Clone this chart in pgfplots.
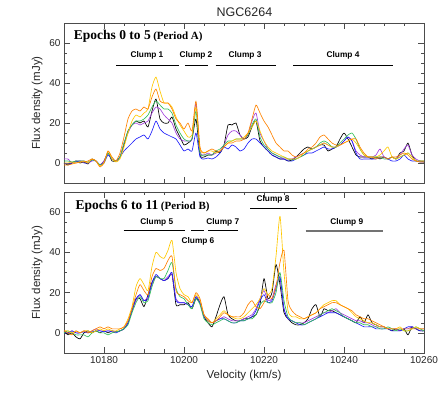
\documentclass[border=0pt]{standalone}
\usepackage{pgfplots}
\pgfplotsset{compat=1.18}
\usepackage{pgfplotstable}
\usepackage{fontspec}
\setmainfont{Liberation Sans}
\newfontfamily\serifb{Liberation Serif}

\definecolor{cK}{RGB}{0,0,0}
\definecolor{cP}{RGB}{160,60,220}
\definecolor{cB}{RGB}{30,30,250}
\definecolor{cG}{RGB}{50,190,90}
\definecolor{cY}{RGB}{255,200,0}
\definecolor{cO}{RGB}{255,130,0}

% Period A: velocity, then one column per epoch colour
\pgfplotstableread{
v k p b g y o
10170 0 2 0 1 0 -1
10171 -1 2 -0.5 1 0 -1
10172 0 0 0 0.5 0.5 -0.5
10173 1 1 0.5 1 0 0
10174 0 1 1 1 0.5 0.5
10175 0.5 1 0 1 1 0.5
10176 -0.5 0 0 0.5 0 1
10177 2 1 1.5 1.5 2 2
10178 1 1 1 1 1 1
10179 -1 -1 -1 -1 -1.5 -2
10180 1 1 0 0 0 0
10181 5 5 4 5 6 6
10182 1 2 2 2 2 3
10183 1 1 1 1 0.5 1
10184 3 3 3 3 2 5
10185 9 10 6 10 8 13
10186 16 15 8 16 15 22
10187 19 19 10 19 21 26
10188 21 20 12 21 24 27
10189 20 19 13 21 23 26
10190 21 20 14 22 25 28
10191 18 21 12 24 27 27
10192 26 25 16 28 38 33
10193 32 28 21 31 43 37
10194 22 27 17 29 36 31
10195 20 24 15 27 30 30
10196 20 22 14 27 30 30
10197 23 20 13 25 28 27
10198 17 15 12 19 23 22
10199 13 12 9 15 19 20
10200 9 11 6 12 16 17
10201 10 11 7 11 13 20
10202 12 12 6 12 14 16
10203 22 30 15 26 28 31
10204 4 6 3 5 7 8
10205 3 4 2 4 5 5
10206 4 5 2.5 4 6 6
10207 4 4 2 4 6 7
10208 6 5 3 6 5 6
10209 5 6 5 7 6 6
10210 9 9 8 9 8 8
10211 19 14 7 11 10 10
10212 19 16 9 11 11 10
10213 20 16 8 12 12 11
10214 14 14 6 12 12 11
10215 12 12 7 12 13 12
10216 13 14 10 14 15 15
10217 18 21 12 19 18 22
10218 21 25 12 22 21 29
10219 11 15 10 13 16 25
10220 8 11 8 9 11 21
10221 6 7 6 7 8 18
10222 4 5 4 5 6 14
10223 3 4 3 4 5 10
10224 2 3 2 3 4 8
10225 2 2 2 3 3 6
10226 1 2 1 2 2 6
10227 1.5 2 1 1.5 2 4
10228 3 3 2 2 2 3
10229 5 4 3 3 3 4
10230 7 5 4 4 5 5
10231 8 6 5 6 6 7
10232 7 7 5 7 7 8
10233 8 8 6 8 8 10
10234 9 9 7 10 9 13
10235 9 10 8 11 10 14
10236 6 9 7 10 9 12
10237 7 8 7 8 8 10
10238 8 8 8 8 8 9
10239 12 9 9 10 9 9
10240 15 11 11 12 10 10
10241 12 13 13 14 11 11
10242 8 11 11 15 12 12
10243 4 6 5 12 10 12
10244 3 4 2 7 7 8
10245 3 3 2 4 4 5
10246 3 3 2 3 3 3
10247 2 3 2 3 3 3
10248 3 4 2 3 3 2
10249 2 7 3 3 4 3
10250 3 3 3 2 6 3
10251 2 2 2 2 8 2
10252 3 3 1 3 3 3
10253 2 2 1 2 2 3
10254 5 4 2 3 3 4
10255 6 7 4 4 4 5
10256 10 9 2 5 5 4
10257 4 4 1 3 3 2
10258 1 2 1 1 1 1
10259 1 1 0.5 1 1 0.5
10260 0.5 1 0.5 1 1 0.5
}\periodA

% Period B
\pgfplotstableread{
v k p b g y o
10170 1 1 0 0 1 1
10171 -1 0 0 1 1 0
10172 0 1 1 0 0 -1
10173 -2 0 0 -1 1 1
10174 -3 0 0 -1 0 0
10175 0 1 0.5 -1 1 1
10176 1 0 0 -2 1 0
10177 0 1 0.5 0 0 1
10178 1 2 1 1 1 2
10179 0 1 1 0 2 3
10180 1 1 0.5 0 1 2
10181 0 1 1 -1 2 3
10182 1 1 0.5 0 1 2
10183 0.5 0.5 0 0.5 1 2
10184 1 1 1 1 2 2
10185 2 2 2 2 3 3
10186 5 5 5 4 7 6
10187 11 11 11 10 13 12
10188 17 16 17 15 23 19
10189 17 19 19 18 27 24
10190 13 16 16 15 24 21
10191 19 18 17 16 21 19
10192 25 24 25 23 33 28
10193 28 28 29 28 40 32
10194 27 27 27 27 38 31
10195 26 26 26 27 37 32
10196 27 28 27 31 41 36
10197 29 29 30 35 46 38
10198 14 17 16 22 30 21
10199 14 15 15 18 22 19
10200 14 15 15 17 19 18
10201 15 14 14 14 18 16
10202 12 13 13 12 15 15
10203 17 18 18 17 19 20
10204 15 15 15 14 16 17
10205 8 9 8 7 9 9
10206 5 6 6 5 6 7
10207 3 5 5 4 5 5
10208 8 6 6 5 7 6
10209 14 7 7 6 9 8
10210 18 8 7 7 11 10
10211 9 7 6 6 9 9
10212 7 6 5 5 8 8
10213 6 6 5 5 7 8
10214 6 6 6 6 7 8
10215 7 7 6 6 8 10
10216 7 8 7 7 10 14
10217 8 9 8 7 12 16
10218 9 12 11 9 14 13
10219 14 17 16 14 17 12
10220 27 21 19 16 22 15
10221 17 16 15 15 19 19
10222 20 17 16 15 22 17
10223 34 24 22 20 38 23
10224 24 27 28 30 58 35
10225 10 12 12 16 30 41
10226 7 7 7 8 11 16
10227 5 6 6 6 8 11
10228 4 5 5 5 8 9
10229 4 5 4 5 7 8
10230 5 5 4 4 7 7
10231 7 6 5 5 8 8
10232 12 7 6 6 9 9
10233 14 8 7 7 10 10
10234 8 9 8 9 12 12
10235 12 10 9 10 14 13
10236 11 10 10 11 15 14
10237 11 11 10 12 16 15
10238 10 12 10 11 16 15
10239 9 10 9 10 14 14
10240 8 9 8 8 13 13
10241 7 8 7 7 12 12
10242 6 7 6 6 10 11
10243 5 6 5 5 8 9
10244 8 6 4 5 7 8
10245 5 5 3 4 6 7
10246 9 5 3 4 5 7
10247 5 4 3 3 5 6
10248 4 3 2 3 4 5
10249 3 3 2 2 3 4
10250 3 3 2 2 3 3
10251 2 2 2 3 2 2
10252 1 2 1 2 2 2
10253 2 2 1 1 2 2
10254 1 1 1 2 3 2
10255 2 2 2 1 1 2
10256 -1 2 3 1 1 2
10257 3 3 3 2 2 2
10258 2 2 2 3 3 2
10259 1 2 1 2 2 2
10260 1 2 1 1 2 2
}\periodB

\pgfplotsset{
  idl/.style={
    scale only axis, width=360pt,
    xmin=10170, xmax=10260, ymin=-10, ymax=70,
    xtick={10180,10200,10220,10240,10260}, minor x tick num=3,
    ytick={0,20,40,60}, minor y tick num=3,
    scaled x ticks=false,
    xticklabel style={/pgf/number format/fixed, /pgf/number format/precision=0},
    major tick length=6pt, minor tick length=3.5pt,
    axis line style={black!70}, every tick/.style={black!70},
    tick label style={font=\fontsize{10}{12}\selectfont, black!85},
    /pgf/number format/assume math mode=true,
    /pgf/number format/1000 sep={},
    ylabel={Flux density (mJy)},
    label style={font=\fontsize{11.5}{13}\selectfont, black!85},
    every axis plot/.append style={line width=0.65pt, smooth, tension=0.35, line join=round},
  },
}
\tikzset{clump/.style={font=\fontsize{8.3}{10}\selectfont\bfseries}}

\begin{document}
\begin{tikzpicture}
\useasboundingbox (0,0) rectangle (445pt,396pt);
\node[font=\fontsize{12.5}{14}\selectfont, black!85] at (244.5pt,384pt) {NGC6264};

\begin{axis}[idl, at={(64pt,213pt)}, anchor=south west, height=160pt,
  xticklabels={}]
  \addplot[cK] table[x=v,y=k] {\periodA};
  \addplot[cP] table[x=v,y=p] {\periodA};
  \addplot[cB] table[x=v,y=b] {\periodA};
  \addplot[cG] table[x=v,y=g] {\periodA};
  \addplot[cY] table[x=v,y=y] {\periodA};
  \addplot[cO] table[x=v,y=o] {\periodA};
  \node[anchor=west, font=\serifb\bfseries] at (axis cs:10171.6,63.6)
    {{\fontsize{13.5}{15}\selectfont Epochs 0 to 5} {\fontsize{11}{12}\selectfont (Period A)}};
  \draw[line width=0.9pt] (axis cs:10183.1,49) -- (axis cs:10198.75,49);
  \draw[line width=0.9pt] (axis cs:10200.2,49) -- (axis cs:10206.1,49);
  \draw[line width=0.9pt] (axis cs:10207.9,49) -- (axis cs:10223,49);
  \draw[line width=0.9pt] (axis cs:10227.3,49) -- (axis cs:10252.2,49);
  \node[clump] at (axis cs:10190.75,53.8) {Clump 1};
  \node[clump] at (axis cs:10203,53.8) {Clump 2};
  \node[clump] at (axis cs:10215.25,53.8) {Clump 3};
  \node[clump] at (axis cs:10239.75,53.6) {Clump 4};
\end{axis}

\begin{axis}[idl, at={(64pt,43pt)}, anchor=south west, height=161pt,
  xlabel={Velocity (km/s)}]
  \addplot[cK] table[x=v,y=k] {\periodB};
  \addplot[cP] table[x=v,y=p] {\periodB};
  \addplot[cB] table[x=v,y=b] {\periodB};
  \addplot[cG] table[x=v,y=g] {\periodB};
  \addplot[cY] table[x=v,y=y] {\periodB};
  \addplot[cO] table[x=v,y=o] {\periodB};
  \node[anchor=west, font=\serifb\bfseries] at (axis cs:10172,62.9)
    {{\fontsize{13.5}{15}\selectfont Epochs 6 to 11} {\fontsize{11}{12}\selectfont (Period B)}};
  \draw[line width=0.9pt] (axis cs:10184.9,50.7) -- (axis cs:10200.3,50.7);
  \draw[line width=0.9pt] (axis cs:10201.75,50.7) -- (axis cs:10205.1,50.7);
  \draw[line width=0.9pt] (axis cs:10206.1,50.7) -- (axis cs:10213.4,50.7);
  \draw[line width=0.9pt] (axis cs:10216.6,61.6) -- (axis cs:10228.3,61.6);
  \draw[line width=1.4pt, black!55] (axis cs:10230.4,50.7) -- (axis cs:10249.8,50.7);
  \node[clump] at (axis cs:10193.2,54.9) {Clump 5};
  \node[clump] at (axis cs:10203.5,45.5) {Clump 6};
  \node[clump] at (axis cs:10209.7,54.9) {Clump 7};
  \node[clump] at (axis cs:10222.25,66.2) {Clump 8};
  \node[clump] at (axis cs:10240.7,54.9) {Clump 9};
\end{axis}
\end{tikzpicture}
\end{document}
